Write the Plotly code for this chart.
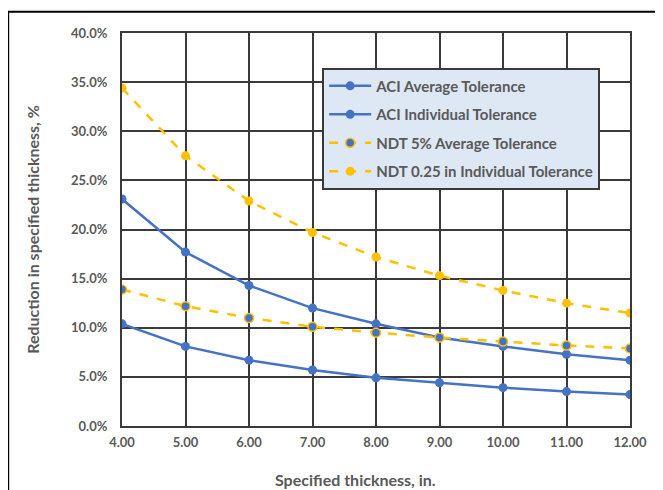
import plotly.graph_objects as go

thickness = [4, 5, 6, 7, 8, 9, 10, 11, 12]
aci_average = [10.4, 8.1, 6.7, 5.7, 4.9, 4.4, 3.9, 3.5, 3.2]
aci_individual = [23.1, 17.7, 14.3, 12.0, 10.4, 9.0, 8.1, 7.3, 6.7]
ndt_average = [13.9, 12.2, 11.0, 10.1, 9.5, 9.0, 8.6, 8.2, 7.9]
ndt_individual = [34.4, 27.5, 22.9, 19.7, 17.2, 15.3, 13.8, 12.5, 11.5]

BLUE = "#4472C4"
GOLD = "#FFC000"
TXT = "#595959"
FONT = "Lato"

fig = go.Figure()
fig.add_trace(go.Scatter(x=thickness, y=aci_average, name="ACI Average Tolerance",
                         mode="lines+markers", legendgroup="a",
                         line=dict(color=BLUE, width=2.5),
                         marker=dict(color=BLUE, size=9)))
fig.add_trace(go.Scatter(x=thickness, y=aci_individual, name="ACI Individual Tolerance",
                         mode="lines+markers", legendgroup="b",
                         line=dict(color=BLUE, width=2.5),
                         marker=dict(color=BLUE, size=9)))
fig.add_trace(go.Scatter(x=thickness, y=ndt_average, name="NDT 5% Average Tolerance",
                         mode="lines+markers", legendgroup="c",
                         line=dict(color=GOLD, width=2.5, dash="dash"),
                         marker=dict(color=BLUE, size=9, line=dict(color=GOLD, width=1.5))))
fig.add_trace(go.Scatter(x=thickness, y=ndt_individual, name="NDT 0.25 in Individual Tolerance",
                         mode="lines+markers", legendgroup="d",
                         line=dict(color=GOLD, width=2.5, dash="dash"),
                         marker=dict(color=GOLD, size=9)))

fig.update_layout(
    width=663, height=490,
    margin=dict(l=114, r=41, t=25, b=72, autoexpand=False),
    paper_bgcolor="white", plot_bgcolor="white",
    font=dict(family=FONT, color=TXT, size=13),
    showlegend=True,
    legend=dict(x=0.394, y=0.912, xanchor="left", yanchor="top",
                bgcolor="#DEE8F5", bordercolor="#3A3A3A", borderwidth=2,
                font=dict(family=FONT, size=15, color=TXT, weight="bold"),
                itemwidth=42,
                traceorder="grouped", tracegroupgap=6),
    shapes=[dict(type="rect", xref="paper", yref="paper",
                 x0=-0.224, x1=1.053, y0=-0.2, y1=1.054,
                 line=dict(color="black", width=2), layer="below")],
    annotations=[dict(text="Specified thickness, in.", xref="paper", yref="paper",
                      x=0.46, y=-0.137, xanchor="center", yanchor="middle",
                      showarrow=False,
                      font=dict(family=FONT, size=16, color=TXT, weight="bold"))],
)
fig.update_xaxes(range=[4, 12], tickvals=thickness, tickformat=".2f",
                 showgrid=True, gridcolor="#3A3A3A", gridwidth=2,
                 showline=True, linecolor="#3A3A3A", linewidth=2, mirror=True,
                 zeroline=False, ticks="", ticklabelstandoff=3, automargin=False,
                 tickfont=dict(family=FONT, size=13, color=TXT, weight="bold"))
fig.update_yaxes(range=[0, 40], dtick=5, tickformat=".1f", ticksuffix="%",
                 showgrid=True, gridcolor="#3A3A3A", gridwidth=2,
                 showline=True, linecolor="#3A3A3A", linewidth=2, mirror=True,
                 zeroline=False, ticks="", ticklabelstandoff=10, automargin=False,
                 tickfont=dict(family=FONT, size=13, color=TXT, weight="bold"),
                 title=dict(text="Reduction in specified thickness, %", standoff=27,
                            font=dict(family=FONT, size=16, color=TXT, weight="bold")))

fig.write_html("out.html")
